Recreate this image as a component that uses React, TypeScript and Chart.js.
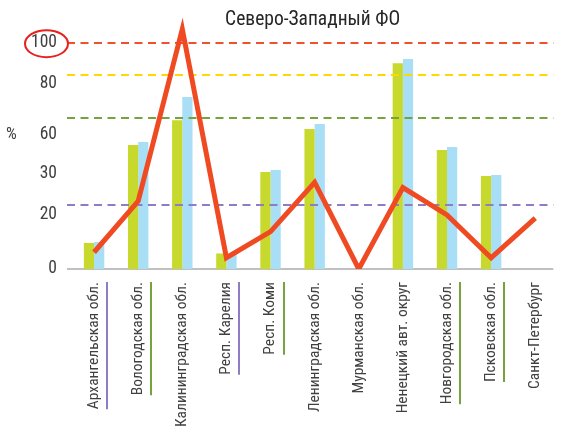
import React, { useEffect, useRef } from 'react';
import { Chart, registerables } from 'chart.js';

Chart.register(...registerables);

const chartTitle = 'Северо-Западный ФО';
const categories = [
  'Архангельская обл.',
  'Вологодская обл.',
  'Калининградская обл.',
  'Респ. Карелия',
  'Респ. Коми',
  'Ленинградская обл.',
  'Мурманская обл.',
  'Ненецкий авт. округ',
  'Новгородская обл.',
  'Псковская обл.',
  'Санкт-Петербург',
];
const greenValues = [11.5, 54.8, 65.7, 6.8, 42.9, 61.9, null, 90.9, 52.6, 41.1, null];
const blueValues = [11.9, 56.1, 76.0, 6.5, 43.7, 64.1, null, 92.8, 53.9, 41.5, null];
const lineValues = [7.4, 30.0, 106.0, 5.0, 16.5, 38.3, 0, 36.0, 23.9, 4.9, 22.5];
const yTickValues = [0, 23.9, 42, 59.2, 82.1, 100];
const yTickLabels = ['0', '20', '30', '60', '80', '100'];
const yUnit = '%';
const circledTickLabel = '100';
const thresholdValues = [100, 85.7, 66.9, 28.1];
const thresholdColors = ['#f0502a', '#ffd800', '#77a33f', '#8f7cc4'];
const labelMarkerColors = ['#8f7cc4', '#77a33f', null, '#8f7cc4', '#77a33f', null, null, null, '#77a33f', '#77a33f', null];

const FONT = '"Roboto Condensed", Roboto, sans-serif';
const X_FONT_SIZE = 15.5;
const X_TICK_PAD = 13;

const decor = {
  id: 'decor',
  beforeDatasetsDraw(chart: any) {
    const { ctx, chartArea } = chart;
    ctx.save();
    ctx.strokeStyle = '#c0c0c0';
    ctx.lineWidth = 2;
    ctx.beginPath();
    ctx.moveTo(chartArea.left - 5, chartArea.bottom);
    ctx.lineTo(chartArea.right - 4, chartArea.bottom);
    ctx.stroke();
    ctx.restore();
  },
  beforeDatasetDraw(chart: any, args: any) {
    if (args.index !== 0) return;
    const { ctx, chartArea, scales } = chart;
    ctx.save();
    ctx.lineWidth = 2;
    ctx.setLineDash([8, 5.5]);
    thresholdValues.forEach((v, i) => {
      const y = Math.round(scales.y.getPixelForValue(v));
      ctx.strokeStyle = thresholdColors[i];
      ctx.beginPath();
      ctx.moveTo(chartArea.left - 5, y);
      ctx.lineTo(chartArea.right - 4, y);
      ctx.stroke();
    });
    ctx.restore();
  },
  afterDraw(chart: any) {
    const { ctx, chartArea, scales } = chart;
    ctx.save();
    // title
    ctx.fillStyle = '#262626';
    ctx.font = `19.5px ${FONT}`;
    ctx.textAlign = 'center';
    ctx.textBaseline = 'middle';
    ctx.fillText(chartTitle, (chartArea.left + chartArea.right) / 2 - 2, 20);
    // unit
    ctx.fillStyle = '#404040';
    ctx.font = `17px ${FONT}`;
    ctx.textAlign = 'left';
    const unitIdx = yTickLabels.indexOf('60');
    ctx.fillText(yUnit, 6, scales.y.getPixelForValue(yTickValues[unitIdx]));
    // circle around tick label
    const ci = yTickLabels.indexOf(circledTickLabel);
    const cy = scales.y.getPixelForValue(yTickValues[ci]);
    ctx.strokeStyle = '#e8201e';
    ctx.lineWidth = 2;
    ctx.beginPath();
    ctx.ellipse(46.5, cy + 1, 21.5, 13.5, 0, 0, Math.PI * 2);
    ctx.stroke();
    // label markers
    ctx.font = `${X_FONT_SIZE}px ${FONT}`;
    ctx.lineWidth = 2;
    labelMarkerColors.forEach((c, i) => {
      if (!c) return;
      const x = Math.round(scales.x.getPixelForTick(i) + 13);
      const w = ctx.measureText(categories[i]).width;
      const y0 = chartArea.bottom + X_TICK_PAD;
      ctx.strokeStyle = c;
      ctx.beginPath();
      ctx.moveTo(x, y0);
      ctx.lineTo(x, y0 + w);
      ctx.stroke();
    });
    ctx.restore();
  },
};

export default function App() {
  const ref = useRef<HTMLCanvasElement>(null);
  useEffect(() => {
    document.body.style.margin = '0';
    const chart = new Chart(ref.current as HTMLCanvasElement, {
      type: 'bar',
      data: {
        labels: categories,
        datasets: [
          {
            type: 'line',
            data: lineValues,
            borderColor: '#f04a23',
            backgroundColor: '#f04a23',
            borderWidth: 5,
            pointRadius: 0,
            tension: 0,
            borderJoinStyle: 'miter',
            clip: { left: false, top: false, right: false, bottom: 0 },
          } as any,
          {
            type: 'bar',
            data: greenValues,
            backgroundColor: '#c6d92c',
            borderWidth: 0,
            categoryPercentage: 0.463,
            barPercentage: 1,
          },
          {
            type: 'bar',
            data: blueValues,
            backgroundColor: '#a8def6',
            borderWidth: 0,
            categoryPercentage: 0.463,
            barPercentage: 1,
          },
        ],
      },
      options: {
        responsive: false,
        animation: false,
        layout: { padding: { top: 42.7, left: 0, right: 3.4, bottom: 0 } },
        plugins: {
          legend: { display: false },
          tooltip: { enabled: false },
          title: { display: false },
        },
        scales: {
          x: {
            offset: true,
            grid: { display: false, drawTicks: false },
            border: { display: false },
            ticks: {
              autoSkip: false,
              minRotation: 90,
              maxRotation: 90,
              padding: X_TICK_PAD,
              color: '#404040',
              font: { family: FONT, size: X_FONT_SIZE },
            },
            afterFit: (s: any) => {
              s.height = 168;
            },
          },
          y: {
            min: 0,
            max: 100,
            grid: { display: false, drawTicks: false },
            border: { display: false },
            afterBuildTicks: (s: any) => {
              s.ticks = yTickValues.map((v) => ({ value: v }));
            },
            afterFit: (s: any) => {
              s.width = 72;
            },
            ticks: {
              padding: 15,
              color: '#404040',
              font: { family: FONT, size: 17.5 },
              callback: (_v: any, i: number) => yTickLabels[i],
            },
          },
        },
      },
      plugins: [decor],
    });
    return () => chart.destroy();
  }, []);
  return <canvas ref={ref} width={567} height={437} style={{ display: 'block' }} />;
}
